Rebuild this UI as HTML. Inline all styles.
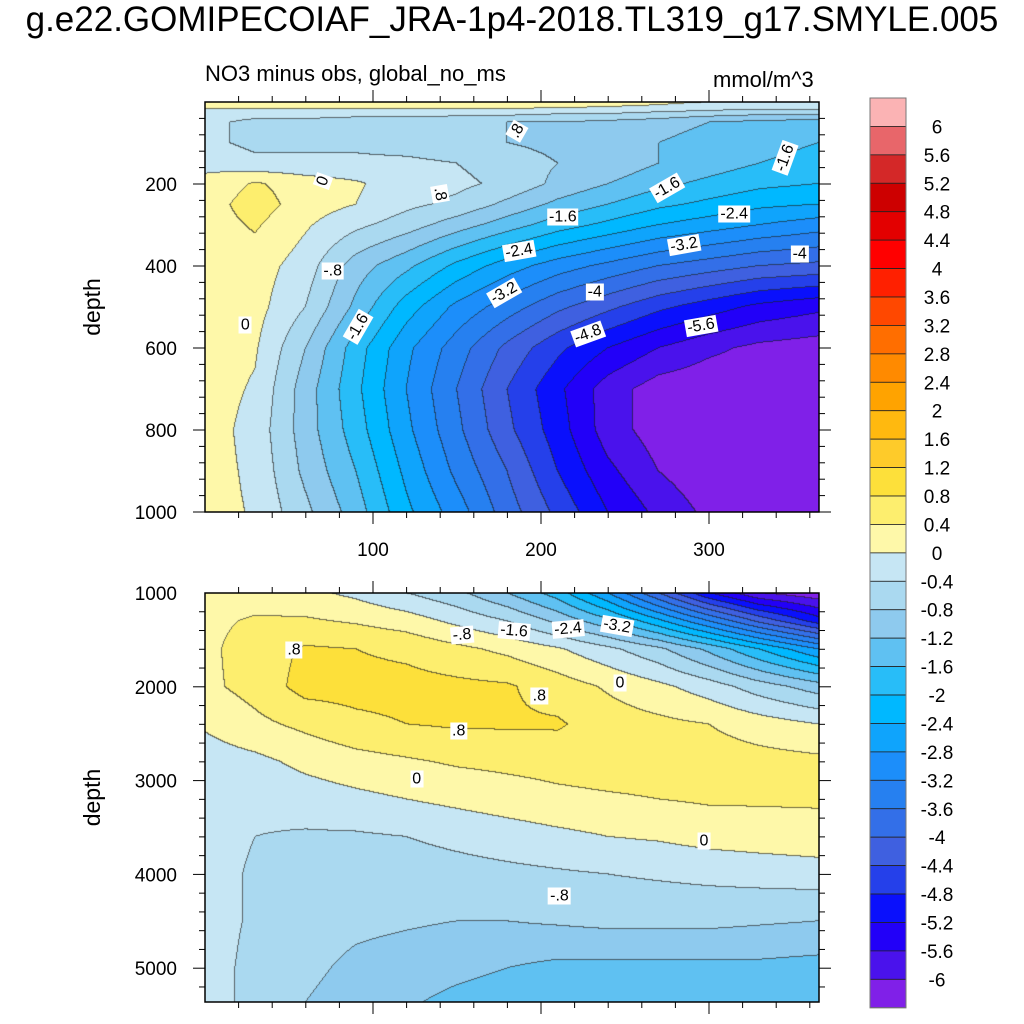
<!DOCTYPE html>
<html><head><meta charset="utf-8"><style>
body{margin:0;background:#fff;width:1024px;height:1024px;position:relative;overflow:hidden;font-family:"Liberation Sans",sans-serif;}
.abs{position:absolute;}
canvas{position:absolute;}
.lbl{position:absolute;background:#fff;font-size:16px;line-height:17px;padding:0 2px;transform:translate(-50%,-50%);white-space:nowrap;}
</style></head><body>
<div class="abs" style="left:0;width:1024px;top:0px;text-align:center;font-size:35px;">g.e22.GOMIPECOIAF_JRA-1p4-2018.TL319_g17.SMYLE.005</div>
<div class="abs" style="left:205px;top:61px;font-size:22px;">NO3 minus obs, global_no_ms</div>
<div class="abs" style="left:713px;top:67px;font-size:22px;">mmol/m^3</div>
<canvas id="cTop" width="614" height="410" style="left:205px;top:102px"></canvas>
<canvas id="cBot" width="614" height="409" style="left:205px;top:593px"></canvas>
<svg id="ov" width="1024" height="1024" class="abs" style="left:0;top:0"></svg>
<div id="labels"></div>
<script>
// ---------- data ----------
const days=[0,30,60,90,120,150,180,210,240,270,300,330,365];
const topDepths=[0,15,25,50,100,150,200,250,300,400,500,600,700,800,900,1000];
const topVals=[
[0.3,0.3,0.3,0.3,0.3,0.3,0.3,0.3,0.2,0.1,0.0,-0.1,-0.2],
[0.05,0.05,0.05,0.05,0.05,0.05,0.05,0.0,-0.05,-0.1,-0.2,-0.3,-0.3],
[-0.2,-0.2,-0.2,-0.2,-0.2,-0.2,-0.2,-0.3,-0.3,-0.4,-0.5,-0.6,-0.6],
[-0.3,-0.5,-0.5,-0.6,-0.6,-0.7,-0.8,-0.8,-0.9,-1.0,-1.2,-1.3,-1.4],
[-0.3,-0.5,-0.5,-0.5,-0.6,-0.7,-0.8,-0.9,-1.0,-1.2,-1.4,-1.5,-1.6],
[-0.1,-0.3,-0.3,-0.3,-0.3,-0.4,-0.6,-0.8,-0.9,-1.2,-1.4,-1.6,-1.7],
[0.1,0.45,0.2,0.05,-0.2,-0.3,-0.5,-0.9,-1.2,-1.5,-1.7,-1.9,-2.0],
[0.2,0.6,0.2,0.0,-0.3,-0.5,-0.9,-1.3,-1.6,-1.9,-2.1,-2.3,-2.4],
[0.2,0.45,0.05,-0.3,-0.6,-1.0,-1.4,-1.8,-2.1,-2.4,-2.6,-2.8,-3.0],
[0.2,0.2,-0.2,-1.0,-1.5,-2.1,-2.6,-3.0,-3.3,-3.6,-3.8,-4.0,-4.1],
[0.2,0.15,-0.4,-1.3,-2.2,-2.9,-3.4,-3.9,-4.3,-4.7,-5.0,-5.3,-5.5],
[0.2,0.05,-0.8,-1.8,-2.7,-3.4,-4.1,-4.7,-5.2,-5.6,-5.9,-6.1,-6.2],
[0.2,-0.05,-1.0,-1.9,-2.8,-3.6,-4.4,-5.1,-5.8,-6.2,-6.3,-6.3,-6.3],
[0.2,-0.15,-1.0,-1.8,-2.7,-3.5,-4.3,-5.0,-5.8,-6.2,-6.3,-6.3,-6.3],
[0.2,-0.1,-0.9,-1.6,-2.5,-3.3,-4.0,-4.8,-5.5,-6.0,-6.3,-6.3,-6.3],
[0.2,-0.05,-0.7,-1.4,-2.3,-3.0,-3.8,-4.5,-5.2,-5.7,-6.1,-6.3,-6.3]];
const botDepths=[1000,1300,1600,2000,2400,2800,3200,3600,4000,4500,5000,5360];
const botVals=[
[0.2,0.2,0.1,-0.1,-0.4,-0.7,-1.2,-1.8,-2.8,-4.0,-5.2,-6.0,-6.3],
[0.3,0.45,0.45,0.35,0.2,-0.1,-0.4,-0.9,-1.5,-2.3,-3.2,-4.1,-5.0],
[0.3,0.6,0.85,0.8,0.7,0.5,0.3,0.05,-0.3,-0.7,-1.3,-2.0,-2.8],
[0.3,0.55,0.95,0.95,0.95,0.9,0.85,0.6,0.35,0.1,-0.2,-0.6,-1.0],
[0.05,0.3,0.5,0.7,0.8,0.85,0.85,0.85,0.6,0.5,0.4,0.2,0.0],
[-0.2,-0.1,0.1,0.25,0.35,0.45,0.5,0.55,0.6,0.6,0.6,0.55,0.5],
[-0.25,-0.3,-0.2,-0.1,0.0,0.1,0.2,0.3,0.35,0.4,0.45,0.45,0.45],
[-0.25,-0.4,-0.45,-0.45,-0.4,-0.3,-0.2,-0.1,0.0,0.05,0.15,0.2,0.25],
[-0.25,-0.45,-0.55,-0.6,-0.6,-0.55,-0.5,-0.45,-0.4,-0.35,-0.3,-0.25,-0.2],
[-0.25,-0.45,-0.6,-0.7,-0.75,-0.8,-0.8,-0.75,-0.7,-0.7,-0.7,-0.75,-0.8],
[-0.25,-0.5,-0.7,-0.9,-1.0,-1.1,-1.2,-1.3,-1.3,-1.3,-1.3,-1.3,-1.35],
[-0.25,-0.5,-0.8,-1.0,-1.15,-1.3,-1.4,-1.45,-1.5,-1.5,-1.5,-1.5,-1.5]];
const bandColors=["#8020e8","#4a12ec","#2200f8","#0a10fc","#2540ea","#3f60e0","#336fe8","#2680f0","#1c8efa","#0fa4fc","#00b8ff","#28bdf8","#5fc1f2","#8ecaee","#aad9f0","#c6e6f4","#fef8a9","#fdee6e","#fde03a","#fecb2a","#ffb90f","#ffa300","#ff8a00","#ff6e00","#ff4800","#ff2000","#ff0000","#e30000","#cd0000","#d42828","#e8666a","#fbb3b4"];
const cbLabels=["6","5.6","5.2","4.8","4.4","4","3.6","3.2","2.8","2.4","2","1.6","1.2","0.8","0.4","0","-0.4","-0.8","-1.2","-1.6","-2","-2.4","-2.8","-3.2","-3.6","-4","-4.4","-4.8","-5.2","-5.6","-6"];
const topYTicks=[200,400,600,800,1000];
const botYTicks=[1000,2000,3000,4000,5000];
const xTicks=[100,200,300];
const topLabels=[[186,70,".8",-60],[345,137,"-1.6",-70],[70,192,"0",-70],[140,225,".8",80],[213,280,"-1.6",0],[275,210,"-1.6",-30],[315,272,"-2.4",0],[76,413,"-.8",0],[187,364,"-2.4",-10],[285,349,"-3.2",-10],[354,371,"-4",0],[178,466,"-3.2",-30],[232,464,"-4",0],[228,566,"-4.8",-20],[295,546,"-5.6",-10],[91,548,"-1.6",-60],[24,545,"0",0]];
const botLabels=[[153,1450,"-.8",-5],[184,1410,"-1.6",5],[216,1380,"-2.4",-5],[245,1350,"-3.2",10],[53,1610,".8",0],[247,1960,"0",0],[199,2100,".8",0],[151,2470,".8",0],[126,2980,"0",0],[297,3640,"0",0],[211,4230,"-.8",0]];
const levels=[];for(let i=0;i<31;i++)levels.push(-6+0.4*i);

// ---------- scales ----------
const X0=205,X1=819,DMAX=(X1-X0)/1.68;
function xPx(d){return X0+d*1.68;}
function topY(z){return 102+(z/1000)*410;}
function botY(z){return 593+(z-1000)*0.0938;}

function interp(arr,v){let i=0;while(i<arr.length-2&&v>arr[i+1])i++;let t=(v-arr[i])/(arr[i+1]-arr[i]);return [i,Math.max(0,Math.min(1,t))];}
function sample(vals,depths,d,z){const [i,t]=interp(days,d);const [j,u]=interp(depths,z);
 const a=vals[j][i],b=vals[j][i+1],c=vals[j+1][i],e=vals[j+1][i+1];
 return (a*(1-t)+b*t)*(1-u)+(c*(1-t)+e*t)*u;}
function band(v){let k=0;while(k<levels.length&&v>=levels[k])k++;return k;}
function hex(h){return [parseInt(h.substr(1,2),16),parseInt(h.substr(3,2),16),parseInt(h.substr(5,2),16)];}
const rgb=bandColors.map(hex);
function draw(id,vals,depths,yInv){
 const cv=document.getElementById(id),ctx=cv.getContext('2d'),W=cv.width,H=cv.height;
 const img=ctx.createImageData(W,H);const B=new Int16Array(W*H);
 for(let y=0;y<H;y++)for(let x=0;x<W;x++){B[y*W+x]=band(sample(vals,depths,(x+0.5)/1.68,yInv(y+0.5)));}
 for(let y=0;y<H;y++)for(let x=0;x<W;x++){const k=B[y*W+x];let c=rgb[k];let edge=(x<W-1&&B[y*W+x+1]!==k)||(y<H-1&&B[(y+1)*W+x]!==k);
  const p=(y*W+x)*4;if(edge){img.data[p]=c[0]*0.35+20;img.data[p+1]=c[1]*0.35+20;img.data[p+2]=c[2]*0.35+20;}else{img.data[p]=c[0];img.data[p+1]=c[1];img.data[p+2]=c[2];}img.data[p+3]=255;}
 ctx.putImageData(img,0,0);}
draw('cTop',topVals,topDepths,y=>y/410*1000);
draw('cBot',botVals,botDepths,y=>1000+y/0.0938);

// ---------- overlay ----------
const NS="http://www.w3.org/2000/svg",ov=document.getElementById('ov');
function el(t,a){const e=document.createElementNS(NS,t);for(const k in a)e.setAttribute(k,a[k]);ov.appendChild(e);return e;}
function panel(y0,y1,yTicks,yFn,minorStep,zmin,zmax,name,showX){
 const r=el('rect',{x:X0,y:y0,width:X1-X0,height:y1-y0,fill:'none',stroke:'#000','stroke-width':1.5});
 
 
 for(let d=20;d<DMAX;d+=20){const x=xPx(d),L=(d%100===0)?12:6;
  el('line',{x1:x,y1:y0,x2:x,y2:y0-L,stroke:'#000'});el('line',{x1:x,y1:y1,x2:x,y2:y1+L,stroke:'#000'});}
 for(let z=zmin+minorStep;z<zmax;z+=minorStep){const y=yFn(z);const major=yTicks.some(t=>Math.abs(t-z)<1e-6);const L=major?12:6;
  el('line',{x1:X0,y1:y,x2:X0-L,y2:y,stroke:'#000'});el('line',{x1:X1,y1:y,x2:X1+L,y2:y,stroke:'#000'});}
 yTicks.forEach(t=>{const tx=el('text',{x:177,y:yFn(t)+7,'text-anchor':'end','font-size':19});tx.textContent=t;
  
  });
 if(showX)xTicks.forEach(t=>{const tx=el('text',{x:xPx(t),y:y1+44,'text-anchor':'middle','font-size':19});tx.textContent=t;
  
  });
 const yt=el('text',{x:100,y:(y0+y1)/2,'text-anchor':'middle','font-size':23,transform:`rotate(-90 100 ${(y0+y1)/2})`});yt.textContent='depth';
 
 
}
panel(102,512,topYTicks,topY,40,0,1000.1,'top-panel',true);
panel(593,1002,botYTicks,botY,200,1000,5360,'bottom-panel',false);
// colorbar
const cbX=870,cbW=36,cbY0=98,cbH=28.43;
for(let i=0;i<32;i++){const k=31-i;const r=el('rect',{x:cbX,y:cbY0+i*cbH,width:cbW,height:cbH,fill:bandColors[k],stroke:'#222','stroke-width':0.8});
 
 }
el('rect',{x:cbX,y:cbY0,width:cbW,height:32*cbH,fill:'none',stroke:'#777','stroke-width':1});
cbLabels.forEach((t,i)=>{const tx=el('text',{x:937,y:cbY0+(i+1)*cbH+7,'text-anchor':'middle','font-size':19});tx.textContent=t;
 
 });
// contour labels
const lh=document.getElementById('labels');
function addLabels(list,yFn){list.forEach(l=>{const d=document.createElement('div');d.className='lbl';d.textContent=l[2];
 d.style.left=xPx(l[0])+'px';d.style.top=yFn(l[1])+'px';d.style.transform=`translate(-50%,-50%) rotate(${l[3]}deg)`;
 
 
 lh.appendChild(d);});}
addLabels(topLabels,topY);addLabels(botLabels,botY);
</script>
</body></html>
